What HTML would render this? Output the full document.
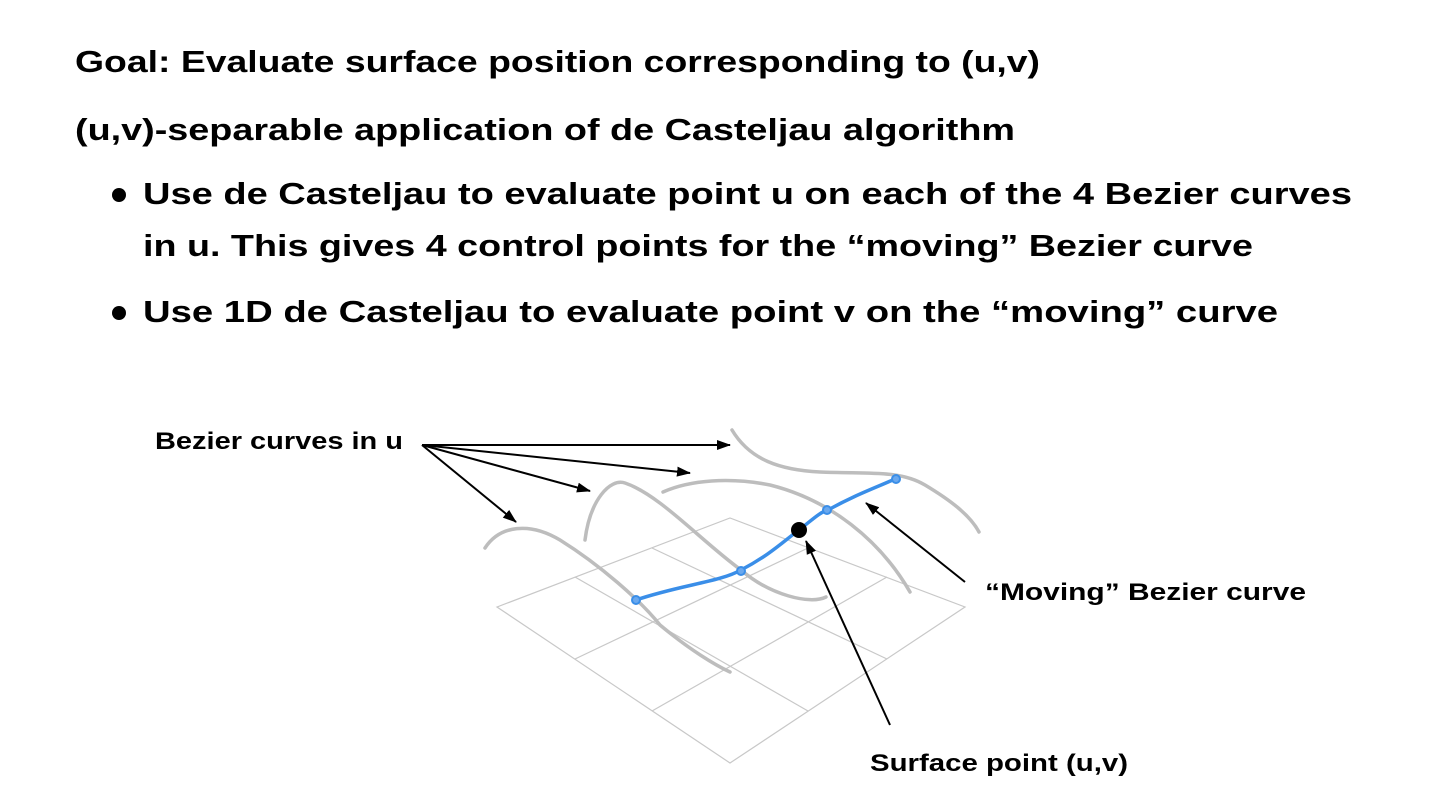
<!DOCTYPE html>
<html><head><meta charset="utf-8"><style>
html,body{margin:0;padding:0;background:#fff;}
svg{display:block;}
text{font-family:"Liberation Sans",sans-serif;fill:#000;}
</style></head><body>
<svg width="1440" height="803" viewBox="0 0 1440 803" xmlns="http://www.w3.org/2000/svg">
<defs>
<marker id="ah" markerWidth="14" markerHeight="12" refX="13" refY="6" orient="auto" markerUnits="userSpaceOnUse" viewBox="0 0 14 12">
<path d="M0,1 L14,6 L0,11 Z" fill="#000"/>
</marker>
</defs>
<g font-size="31" font-weight="bold">
<text x="75" y="72" textLength="965" lengthAdjust="spacingAndGlyphs">Goal: Evaluate surface position corresponding to (u,v)</text>
<text x="75" y="140" textLength="940" lengthAdjust="spacingAndGlyphs">(u,v)-separable application of de Casteljau algorithm</text>
<text x="143" y="204" textLength="1209" lengthAdjust="spacingAndGlyphs">Use de Casteljau to evaluate point u on each of the 4 Bezier curves</text>
<text x="143" y="256" textLength="1110" lengthAdjust="spacingAndGlyphs">in u. This gives 4 control points for the “moving” Bezier curve</text>
<text x="143" y="322" textLength="1135" lengthAdjust="spacingAndGlyphs">Use 1D de Casteljau to evaluate point v on the “moving” curve</text>
</g>
<circle cx="119" cy="195" r="7" fill="#000"/>
<circle cx="119" cy="313" r="7" fill="#000"/>

<!-- grid -->
<g stroke="#c8c8c8" stroke-width="1.2" fill="none">
<polygon points="497,607 730,518 965,607 730,763"/>
<line x1="575" y1="659" x2="808" y2="548"/>
<line x1="652" y1="711" x2="887" y2="577"/>
<line x1="575" y1="577" x2="808" y2="711"/>
<line x1="652" y1="548" x2="887" y2="659"/>
</g>

<!-- gray curves -->
<g stroke="#bdbdbd" stroke-width="3.5" fill="none" stroke-linecap="round">
<path d="M485,548 C500,525 530,522 560,540 C600,565 640,600 660,625 C690,650 715,665 730,672"/>
<path d="M585,540 C590,500 610,478 625,483 C660,495 700,540 741,570 C770,595 810,605 826,597"/>
<path d="M663,492 C690,480 730,477 770,485 C830,500 880,540 910,592"/>
<path d="M732,430 C750,460 780,470 820,472 C870,474 900,470 925,485 C950,500 970,515 979,532"/>
</g>

<!-- blue curve -->
<path d="M636,600 C680,585 720,582 741,570 C770,555 785,540 799,530 C812,520 820,512 828,510 C855,495 875,488 895,479" stroke="#3a8ee8" stroke-width="3.5" fill="none" stroke-linecap="round"/>
<g fill="#6aa8ee" stroke="#3a8ee8" stroke-width="2">
<circle cx="636" cy="600" r="4"/>
<circle cx="741" cy="571" r="4"/>
<circle cx="827" cy="510" r="4"/>
<circle cx="896" cy="479" r="4"/>
</g>
<circle cx="799" cy="530" r="8" fill="#000"/>

<!-- arrows -->
<g stroke="#000" stroke-width="2" fill="none" marker-end="url(#ah)">
<line x1="422" y1="445" x2="730" y2="445"/>
<line x1="422" y1="445" x2="690" y2="473"/>
<line x1="422" y1="445" x2="590" y2="491"/>
<line x1="422" y1="445" x2="516" y2="522"/>
<line x1="965" y1="582" x2="866" y2="503"/>
<line x1="890" y1="725" x2="806" y2="541"/>
</g>

<g font-size="24" font-weight="bold">
<text x="155" y="449" textLength="248" lengthAdjust="spacingAndGlyphs">Bezier curves in u</text>
<text x="985" y="600" textLength="321" lengthAdjust="spacingAndGlyphs">“Moving” Bezier curve</text>
<text x="870" y="771" textLength="258" lengthAdjust="spacingAndGlyphs">Surface point (u,v)</text>
</g>
</svg>
</body></html>
